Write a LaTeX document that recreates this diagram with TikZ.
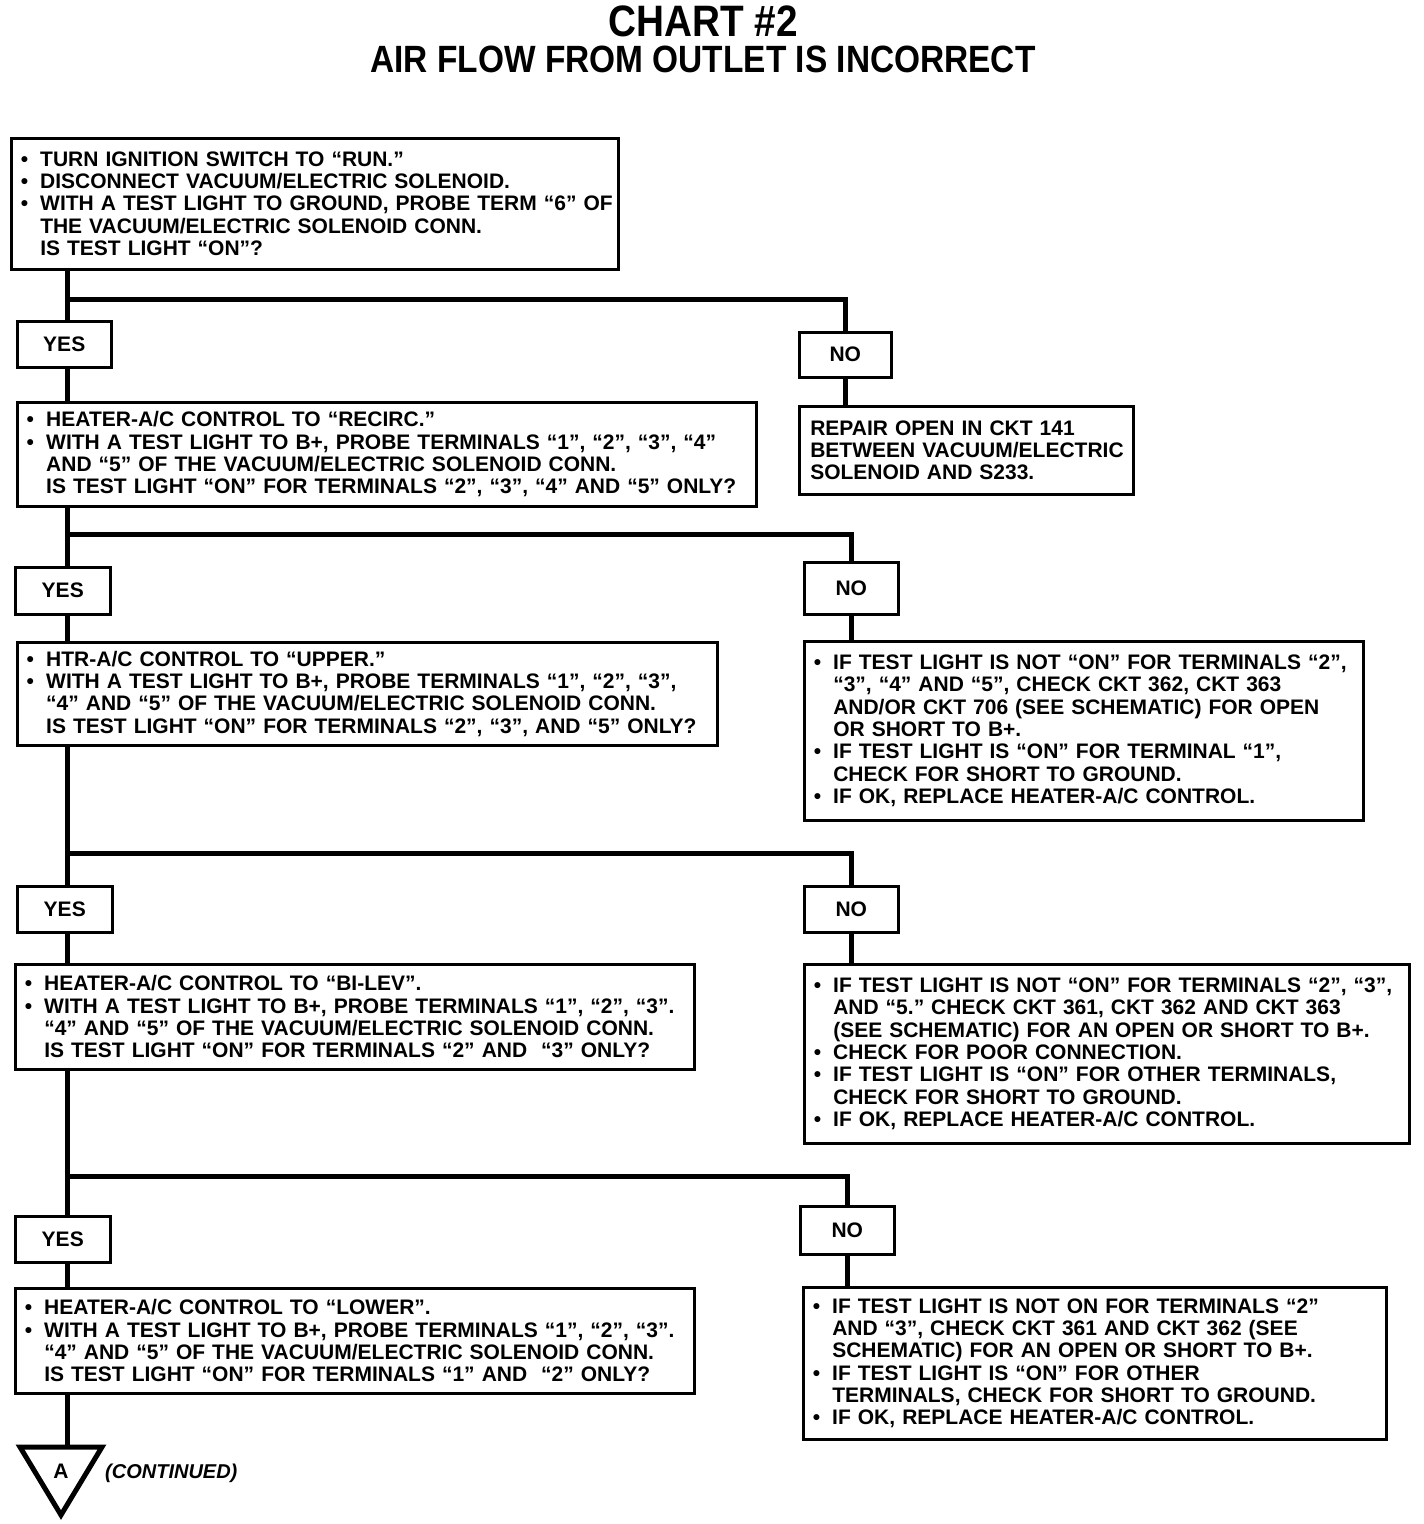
\documentclass[tikz,border=0pt]{standalone}
\usepackage{fontspec}
\setmainfont{Liberation Sans}
\newfontfamily\titlefont[FakeStretch=0.88]{Liberation Sans}
\usepackage{graphicx}
\frenchspacing
\newcommand{\bodyfont}{\bfseries\fontsize{21}{22.3}\selectfont}
\newcommand{\bul}{\makebox[20pt][l]{\kern0.5pt\textbullet}}
\newcommand{\Lb}[1]{\mbox{\bul #1}}
\newcommand{\Li}[1]{\mbox{\hspace*{20pt}#1}}
\newcommand{\Lp}[1]{\mbox{#1}}
\begin{document}
\begin{tikzpicture}[x=1pt,y=-1pt,
  txtbox/.style 2 args={draw, line width=2.5pt, anchor=north west, align=left,
    inner xsep=9pt, inner ysep=0pt, text width=#1-18pt, minimum height=#2, font=\bodyfont},
  ynbox/.style 2 args={draw, line width=2.5pt, anchor=north west, inner sep=0pt,
    minimum width=#1, minimum height=#2, font=\bodyfont},
  conn/.style={line width=5pt}]
\useasboundingbox (0,0) rectangle (1424,1524);
\fill[white] (0,0) rectangle (1424,1524);

% title
\node[font=\titlefont\bfseries\fontsize{44}{44}\selectfont] (t1) at (703,21) {CHART \#2};
\node[font=\titlefont\bfseries\fontsize{38}{38}\selectfont] (t2) at (703,59) {AIR FLOW FROM OUTLET IS INCORRECT};

\coordinate (t) at (67,0);

% level 1
\node[txtbox={607pt}{131pt}] (b1) at (10,137) {%
\Lb{TURN IGNITION SWITCH TO “RUN.”}\\
\Lb{DISCONNECT VACUUM/ELECTRIC SOLENOID.}\\
\Lb{WITH A TEST LIGHT TO GROUND, PROBE TERM “6” OF}\\
\Li{THE VACUUM/ELECTRIC SOLENOID CONN.}\\
\Li{IS TEST LIGHT “ON”?}};
\node[ynbox={94pt}{46pt}] (y1) at (16,320) {YES};
\node[ynbox={92pt}{45pt}] (n1) at (798,331) {NO};
\node[txtbox={334pt}{88pt}, inner xsep=11pt, text width=312pt] (a1) at (798,405) {%
\Lp{REPAIR OPEN IN CKT 141}\\
\Lp{BETWEEN VACUUM/ELECTRIC}\\
\Lp{SOLENOID AND S233.}};

% level 2
\node[txtbox={739pt}{104pt}] (b2) at (16,401) {%
\Lb{HEATER-A/C CONTROL TO “RECIRC.”}\\
\Lb{WITH A TEST LIGHT TO B+, PROBE TERMINALS “1”, “2”, “3”, “4”}\\
\Li{AND “5” OF THE VACUUM/ELECTRIC SOLENOID CONN.}\\
\Li{IS TEST LIGHT “ON” FOR TERMINALS “2”, “3”, “4” AND “5” ONLY?}};
\node[ynbox={95pt}{47pt}] (y2) at (14,566) {YES};
\node[ynbox={94pt}{52pt}] (n2) at (803,561) {NO};
\node[txtbox={559pt}{179pt}] (a2) at (803,640) {%
\Lb{IF TEST LIGHT IS NOT “ON” FOR TERMINALS “2”,}\\
\Li{“3”, “4” AND “5”, CHECK CKT 362, CKT 363}\\
\Li{AND/OR CKT 706 (SEE SCHEMATIC) FOR OPEN}\\
\Li{OR SHORT TO B+.}\\
\Lb{IF TEST LIGHT IS “ON” FOR TERMINAL “1”,}\\
\Li{CHECK FOR SHORT TO GROUND.}\\
\Lb{IF OK, REPLACE HEATER-A/C CONTROL.}};

% level 3
\node[txtbox={700pt}{103pt}] (b3) at (16,641) {%
\Lb{HTR-A/C CONTROL TO “UPPER.”}\\
\Lb{WITH A TEST LIGHT TO B+, PROBE TERMINALS “1”, “2”, “3”,}\\
\Li{“4” AND “5” OF THE VACUUM/ELECTRIC SOLENOID CONN.}\\
\Li{IS TEST LIGHT “ON” FOR TERMINALS “2”, “3”, AND “5” ONLY?}};
\node[ynbox={95pt}{46pt}] (y3) at (16,885) {YES};
\node[ynbox={94pt}{46pt}] (n3) at (803,885) {NO};
\node[txtbox={605pt}{179pt}] (a3) at (803,963) {%
\Lb{IF TEST LIGHT IS NOT “ON” FOR TERMINALS “2”, “3”,}\\
\Li{AND “5.” CHECK CKT 361, CKT 362 AND CKT 363}\\
\Li{(SEE SCHEMATIC) FOR AN OPEN OR SHORT TO B+.}\\
\Lb{CHECK FOR POOR CONNECTION.}\\
\Lb{IF TEST LIGHT IS “ON” FOR OTHER TERMINALS,}\\
\Li{CHECK FOR SHORT TO GROUND.}\\
\Lb{IF OK, REPLACE HEATER-A/C CONTROL.}};

% level 4
\node[txtbox={679pt}{105pt}] (b4) at (14,963) {%
\Lb{HEATER-A/C CONTROL TO “BI-LEV”.}\\
\Lb{WITH A TEST LIGHT TO B+, PROBE TERMINALS “1”, “2”, “3”.}\\
\Li{“4” AND “5” OF THE VACUUM/ELECTRIC SOLENOID CONN.}\\
\Li{IS TEST LIGHT “ON” FOR TERMINALS “2” AND \ “3” ONLY?}};
\node[ynbox={95pt}{46pt}] (y4) at (14,1215) {YES};
\node[ynbox={94pt}{48pt}] (n4) at (799,1205) {NO};
\node[txtbox={583pt}{152pt}] (a4) at (802,1286) {%
\Lb{IF TEST LIGHT IS NOT ON FOR TERMINALS “2”}\\
\Li{AND “3”, CHECK CKT 361 AND CKT 362 (SEE}\\
\Li{SCHEMATIC) FOR AN OPEN OR SHORT TO B+.}\\
\Lb{IF TEST LIGHT IS “ON” FOR OTHER}\\
\Li{TERMINALS, CHECK FOR SHORT TO GROUND.}\\
\Lb{IF OK, REPLACE HEATER-A/C CONTROL.}};

% level 5
\node[txtbox={679pt}{105pt}] (b5) at (14,1287) {%
\Lb{HEATER-A/C CONTROL TO “LOWER”.}\\
\Lb{WITH A TEST LIGHT TO B+, PROBE TERMINALS “1”, “2”, “3”.}\\
\Li{“4” AND “5” OF THE VACUUM/ELECTRIC SOLENOID CONN.}\\
\Li{IS TEST LIGHT “ON” FOR TERMINALS “1” AND \ “2” ONLY?}};

% continuation triangle
\draw[line width=5pt, line join=miter] (20,1447) -- (102,1447) -- (61,1515) -- cycle;
\node[font=\bodyfont] (A) at (61,1471) {A};
\coordinate (tri) at (67,1447);
\node[font=\bfseries\itshape\fontsize{20}{22}\selectfont, anchor=west, inner sep=0pt] (cont) at (105,1473) {(CONTINUED)};

% junctions
\coordinate (j1) at (67,299);
\coordinate (j2) at (67,534);
\coordinate (j3) at (67,853);
\coordinate (j4) at (67,1176);

% trunk
\draw[conn] (b1.south -| t) -- (y1.north -| t);
\draw[conn] (y1.south -| t) -- (b2.north -| t);
\draw[conn] (b2.south -| t) -- (y2.north -| t);
\draw[conn] (y2.south -| t) -- (b3.north -| t);
\draw[conn] (b3.south -| t) -- (y3.north -| t);
\draw[conn] (y3.south -| t) -- (b4.north -| t);
\draw[conn] (b4.south -| t) -- (y4.north -| t);
\draw[conn] (y4.south -| t) -- (b5.north -| t);
\draw[conn] (b5.south -| t) -- (tri);

% branches
\draw[conn] (j1) -| (n1.north);
\draw[conn] (j2) -| (n2.north);
\draw[conn] (j3) -| (n3.north);
\draw[conn] (j4) -| (n4.north);
\draw[conn] (n1.south) -- (a1.north -| n1.south);
\draw[conn] (n2.south) -- (a2.north -| n2.south);
\draw[conn] (n3.south) -- (a3.north -| n3.south);
\draw[conn] (n4.south) -- (a4.north -| n4.south);
\end{tikzpicture}
\end{document}
